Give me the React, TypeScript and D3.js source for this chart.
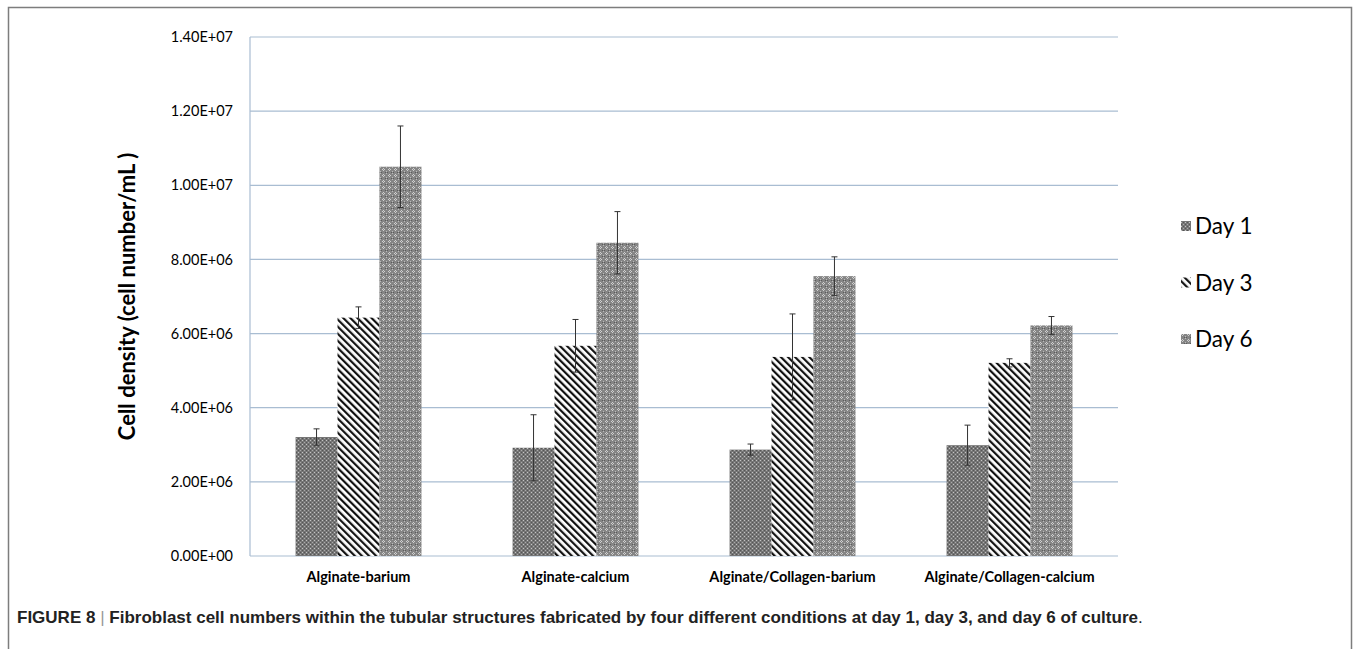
import React from "react";
import * as d3 from "d3";

const categories = [
  "Alginate-barium",
  "Alginate-calcium",
  "Alginate/Collagen-barium",
  "Alginate/Collagen-calcium",
];
const seriesNames = ["Day 1", "Day 3", "Day 6"];

// cell density (cells/mL), per category
const day1 = [3.21e6, 2.92e6, 2.87e6, 2.99e6];
const day3 = [6.43e6, 5.67e6, 5.37e6, 5.21e6];
const day6 = [10.5e6, 8.45e6, 7.55e6, 6.22e6];

// standard deviation
const day1Err = [0.22e6, 0.89e6, 0.15e6, 0.54e6];
const day3Err = [0.29e6, 0.71e6, 1.16e6, 0.11e6];
const day6Err = [1.1e6, 0.84e6, 0.52e6, 0.24e6];

const yTicks = [0, 2e6, 4e6, 6e6, 8e6, 10e6, 12e6, 14e6];

const W = 1356;
const H = 649;
const plot = { left: 250, right: 1118, top: 37, bottom: 556 };
const fills = ["url(#p-day1)", "url(#p-day3)", "url(#p-day6)"];
const gridColor = "#a9bdd2";
const labelFont = "Lato, 'Open Sans', sans-serif";

const fmtExp = (v: number) => {
  const s = v.toExponential(2).toUpperCase();
  // 1.40E+7 -> 1.40E+07
  return s.replace(/E([+-])(\d)$/, "E$10$2");
};

export default function App() {
  const values = [day1, day3, day6];
  const errors = [day1Err, day3Err, day6Err];

  const y = d3.scaleLinear().domain([0, 14e6]).range([plot.bottom, plot.top]);
  const x0 = d3
    .scaleBand<string>()
    .domain(categories)
    .range([plot.left, plot.right])
    .padding(0);
  const bw = x0.bandwidth();
  const x1 = d3
    .scaleBand<string>()
    .domain(seriesNames)
    .range([bw * 0.21, bw * 0.79])
    .padding(0);

  return (
    <svg
      width={W}
      height={H}
      style={{ position: "absolute", left: 0, top: 0, background: "#fff" }}
    >
      <defs>
        <pattern id="p-day1" width="4" height="4" patternUnits="userSpaceOnUse">
          <rect width="4" height="4" fill="#767676" />
          <rect x="0" y="0" width="1" height="1" fill="#c4c4c4" />
          <rect x="2" y="2" width="1" height="1" fill="#aaaaaa" />
          <rect x="2" y="0" width="1" height="1" fill="#555" />
          <rect x="0" y="2" width="1" height="1" fill="#555" />
        </pattern>
        <pattern
          id="p-day3"
          width="5"
          height="5"
          patternUnits="userSpaceOnUse"
          patternTransform="rotate(-45)"
        >
          <rect width="5" height="5" fill="#fff" />
          <rect x="0" y="0" width="2.2" height="5" fill="#111" />
        </pattern>
        <pattern id="p-day6" width="6" height="6" patternUnits="userSpaceOnUse">
          <rect width="6" height="6" fill="#858585" />
          <rect x="1" y="0" width="1" height="1" fill="#d0d0d0" />
          <rect x="0" y="1" width="1" height="1" fill="#d0d0d0" />
          <rect x="2" y="1" width="1" height="1" fill="#d0d0d0" />
          <rect x="1" y="2" width="1" height="1" fill="#d0d0d0" />
          <rect x="4" y="3" width="1" height="1" fill="#bbbbbb" />
          <rect x="3" y="4" width="1" height="1" fill="#5c5c5c" />
          <rect x="5" y="4" width="1" height="1" fill="#5c5c5c" />
          <rect x="4" y="5" width="1" height="1" fill="#bbbbbb" />
        </pattern>
      </defs>

      {/* frame */}
      <path
        d={`M8.5,${H} V7.5 H1351.5 V${H}`}
        fill="none"
        stroke="#7d7d7d"
        strokeWidth={1.5}
      />

      {/* grid */}
      {yTicks.map((t) => (
        <g key={t}>
          <line
            x1={plot.left}
            x2={plot.right}
            y1={y(t)}
            y2={y(t)}
            stroke={gridColor}
            strokeWidth={1.2}
          />
          <text
            x={233}
            y={y(t)}
            dy="0.35em"
            textAnchor="end"
            fontFamily={labelFont}
            fontSize={14.5}
            fill="#000"
          >
            {fmtExp(t)}
          </text>
        </g>
      ))}
      <line
        x1={plot.left}
        x2={plot.left}
        y1={plot.top}
        y2={plot.bottom}
        stroke={gridColor}
        strokeWidth={1.2}
      />

      {/* bars */}
      {categories.map((c, ci) => (
        <g key={c} transform={`translate(${x0(c)},0)`}>
          {seriesNames.map((s, si) => {
            const v = values[si][ci];
            const e = errors[si][ci];
            const bx = x1(s)!;
            const cx = bx + x1.bandwidth() / 2;
            return (
              <g key={s}>
                <rect
                  x={bx}
                  y={y(v)}
                  width={x1.bandwidth()}
                  height={y(0) - y(v)}
                  fill={fills[si]}
                />
                <line
                  x1={cx}
                  x2={cx}
                  y1={y(v + e)}
                  y2={y(v - e)}
                  stroke="#333"
                  strokeWidth={1}
                />
                <line x1={cx - 3} x2={cx + 3} y1={y(v + e)} y2={y(v + e)} stroke="#333" strokeWidth={1} />
                <line x1={cx - 3} x2={cx + 3} y1={y(v - e)} y2={y(v - e)} stroke="#333" strokeWidth={1} />
              </g>
            );
          })}
          <text
            x={bw / 2}
            y={plot.bottom + 26}
            textAnchor="middle"
            fontFamily={labelFont}
            fontWeight="bold"
            fontSize={14.5}
          >
            {c}
          </text>
        </g>
      ))}

      {/* y title */}
      <text
        transform={`translate(135,${(plot.top + plot.bottom) / 2}) rotate(-90)`}
        textAnchor="middle"
        fontFamily={labelFont}
        fontWeight="bold"
        fontSize={22}
      >
        Cell density (cell number/mL )
      </text>

      {/* legend */}
      {seriesNames.map((s, i) => (
        <g key={s} transform={`translate(1181,${226 + i * 56.5})`}>
          <rect x={0} y={-5} width={10} height={10} fill={fills[i]} />
          <text x={14} dy="0.36em" fontFamily={labelFont} fontSize={22.5}>
            {s}
          </text>
        </g>
      ))}

      {/* caption */}
      <text
        x={17}
        y={623}
        fontFamily="'Liberation Sans', Arial, sans-serif"
        fontSize={17}
        fill="#222"
      >
        <tspan fontWeight="bold">FIGURE 8</tspan>
        <tspan fill="#999"> | </tspan>
        <tspan fontWeight="bold">
          Fibroblast cell numbers within the tubular structures fabricated by four different conditions at day 1, day 3, and day 6 of culture
        </tspan>
        <tspan>.</tspan>
      </text>
    </svg>
  );
}
